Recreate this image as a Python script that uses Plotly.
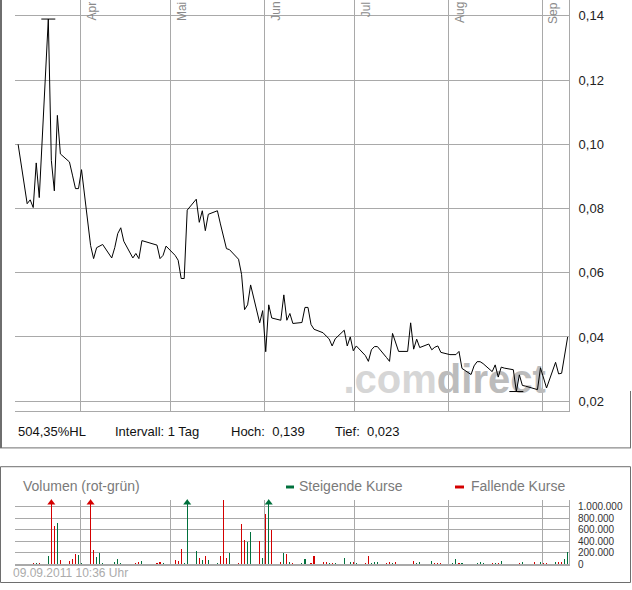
import pandas as pd
import plotly.graph_objects as go

# ---------------- data ----------------
HOLIDAYS = ["2011-04-22", "2011-04-25"]
TRADING_DAYS = [d for d in pd.bdate_range("2011-03-11", "2011-09-09")
                if d.strftime("%Y-%m-%d") not in HOLIDAYS]

PRICE = [
    0.100,
    0.0815, 0.0827, 0.0803, 0.0942, 0.0834,
    0.139, 0.095, 0.0855, 0.109, 0.097,
    0.0945, 0.0904, 0.0862, 0.0862, 0.0921,
    0.0685, 0.0644, 0.0678, 0.0683, 0.0688,
    0.0646, 0.0678, 0.0722, 0.074, 0.0698,
    0.0646, 0.066, 0.0644, 0.070,
    0.0686, 0.0644, 0.0654, 0.0683,
    0.0654, 0.0639, 0.0582, 0.0582, 0.0795,
    0.0829, 0.0757, 0.0793, 0.0731, 0.0782,
    0.0793, 0.0752, 0.0711, 0.0675, 0.0672,
    0.0642, 0.0595, 0.0485, 0.050, 0.0562,
    0.0444, 0.0482, 0.0354, 0.050, 0.0459,
    0.0452, 0.0531, 0.0452, 0.0473, 0.0442,
    0.0445, 0.0492, 0.0492, 0.0439, 0.0424,
    0.0413, 0.0403, 0.0394, 0.0372, 0.0394,
    0.0421, 0.0372, 0.040, 0.0357, 0.0372,
    0.0342, 0.0324, 0.036, 0.037, 0.037,
    0.0336, 0.0324, 0.0411, 0.0382, 0.0355,
    0.0355, 0.0444, 0.0362, 0.0393, 0.0367,
    0.0378, 0.036, 0.0368, 0.0372, 0.0352,
    0.0345, 0.0345, 0.0345, 0.0355, 0.0302,
    0.0283, 0.031, 0.0323, 0.0323, 0.0317,
    0.0292, 0.0313, 0.0275, 0.0306, 0.0303,
    0.0298, 0.023, 0.0282, 0.0249, 0.0247,
    0.0238, 0.0236, 0.0304, 0.0272, 0.0241,
    0.0321, 0.0285, 0.0287, 0.0345, 0.040,
]

VOLUME = [
    12000,
    0, 11000, 23000, 23000, 23000,
    138000, 1600000, 672000, 724000, 69000,
    52000, 86000, 172000, 155000, 17000,
    1500000, 241000, 126000, 195000, 17000,
    11000, 46000, 92000, 17000, 0,
    0, 17000, 46000, 57000,
    17000, 46000, 17000, 11000,
    75000, 57000, 264000, 17000, 1400000,
    230000, 115000, 75000, 144000, 69000,
    17000, 138000, 1110000, 103000, 201000,
    17000, 707000, 414000, 391000, 552000,
    397000, 103000, 879000, 1300000, 603000,
    40000, 201000, 184000, 40000, 23000,
    17000, 92000, 0, 17000, 138000,
    40000, 46000, 23000, 23000, 23000,
    103000, 11000, 40000, 40000, 17000,
    17000, 138000, 17000, 34000, 40000,
    23000, 40000, 17000, 34000, 11000,
    11000, 11000, 52000, 17000, 34000,
    11000, 52000, 23000, 17000, 17000,
    11000, 17000, 86000, 23000, 17000,
    11000, 11000, 17000, 34000, 23000,
    17000, 23000, 17000, 63000, 0,
    11000, 0, 17000, 34000, 0,
    34000, 0, 34000, 17000, 17000,
    46000, 34000, 34000, 98000, 218000,
]

# S = Steigende Kurse, F = Fallende Kurse
DIRECTION = list(
    "S"
    "-FFSF"
    "SFFSF"
    "FFFSS"
    "FFSSS"
    "FSSS-"
    "-FFS"
    "FFSS"
    "FFFSS"
    "SFSFS"
    "SFFFS"
    "FFFSS"
    "FSFSF"
    "FSFSF"
    "SS-FF"
    "FFSFS"
    "SFSFS"
    "FFSSS"
    "FFSFF"
    "SSFSS"
    "FSFFF"
    "SSSFS"
    "FFSSS"
    "FSFS-"
    "F-FS-"
    "F-SFF"
    "SFFSS"
)

MONTHS = ["2011-04-01", "2011-05-01", "2011-06-01", "2011-07-01", "2011-08-01", "2011-09-01"]
MONTH_LABELS = ["Apr", "Mai", "Jun", "Jul", "Aug", "Sep"]
PRICE_TICKS = [0.02, 0.04, 0.06, 0.08, 0.10, 0.12, 0.14]
VOLUME_TICKS = [0, 200000, 400000, 600000, 800000, 1000000]

# ---------------- layout helpers ----------------
W, H = 632, 590
def px(x):
    return x / W
def py(y):
    return 1 - y / H

X_RANGE = ["2011-03-10 11:17", "2011-09-09 22:33"]
P_RANGE = [0.01701, 0.144932]
VOL_TOP = 1120000

GRID = "#a9a9a9"
BORDER = "#6e6e6e"
RED = "#d40000"
GREEN = "#00703c"
FONT = "Liberation Sans, Arial, sans-serif"

x_pos = [d + pd.Timedelta(hours=12) for d in TRADING_DAYS]

fig = go.Figure()

# watermark (behind line)
fig.add_trace(go.Scatter(
    x=["2011-06-27 06:00"], y=[0.0256], mode="text",
    text=["<b><span style='color:#d6d6d6'>.com</span><span style='color:#bcbcbc'>direct</span></b>"],
    textposition="middle right", textfont=dict(size=40, family=FONT),
    hoverinfo="skip", showlegend=False, cliponaxis=False, xaxis="x", yaxis="y"))

# price line
fig.add_trace(go.Scatter(
    x=x_pos, y=PRICE, mode="lines", line=dict(color="black", width=1),
    showlegend=False, xaxis="x", yaxis="y"))

# high / low markers
hi = max(PRICE)
lo = min(PRICE)
hi_i = PRICE.index(hi)
lo_i = PRICE.index(lo)
fig.add_trace(go.Scatter(
    x=[x_pos[hi_i], x_pos[lo_i]], y=[hi, lo], mode="markers",
    marker=dict(symbol="line-ew", size=10, line=dict(color="black", width=1)),
    showlegend=False, xaxis="x", yaxis="y"))

# volume bars
colors = [GREEN if c == "S" else RED for c in DIRECTION]
fig.add_trace(go.Bar(
    x=x_pos, y=VOLUME, marker=dict(color=colors, line=dict(width=0)),
    width=[0.36 * 86400000] * len(x_pos), showlegend=False,
    xaxis="x2", yaxis="y2"))

# overflow arrows
ov_x = [x_pos[i] for i, v in enumerate(VOLUME) if v > VOL_TOP]
ov_c = [colors[i] for i, v in enumerate(VOLUME) if v > VOL_TOP]
fig.add_trace(go.Scatter(
    x=ov_x, y=[VOL_TOP * 0.955] * len(ov_x), mode="markers",
    marker=dict(symbol="triangle-up", size=7, color=ov_c),
    showlegend=False, cliponaxis=False, xaxis="x2", yaxis="y2"))

annotations = []
# month labels
for m, lab in zip(MONTHS, MONTH_LABELS):
    annotations.append(dict(
        x=m, xref="x", y=1, yref="paper", text=lab, textangle=-90,
        xanchor="left", yanchor="top", xshift=2, showarrow=False,
        font=dict(size=12, color="#8a8a8a", family=FONT)))

# info bar
span_pct = (hi - lo) / lo * 100
info = [
    (16, f"{span_pct:.2f}".replace(".", ",") + "%HL"),
    (113, "Intervall: 1 Tag"),
    (229, "Hoch:  " + f"{hi:.3f}".replace(".", ",")),
    (333, "Tief:  " + f"{lo:.3f}".replace(".", ",")),
]
for xx, t in info:
    annotations.append(dict(
        x=px(xx), y=py(436), xref="paper", yref="paper", text=t,
        xanchor="left", yanchor="middle", showarrow=False,
        font=dict(size=13, color="#111111", family=FONT)))

# volume panel texts
annotations.append(dict(x=px(21), y=py(491), xref="paper", yref="paper",
                        text="Volumen (rot-grün)", xanchor="left", yanchor="middle",
                        showarrow=False, font=dict(size=14, color="#7a7a7a", family=FONT)))
annotations.append(dict(x=px(297), y=py(491), xref="paper", yref="paper",
                        text="Steigende Kurse", xanchor="left", yanchor="middle",
                        showarrow=False, font=dict(size=14, color="#7a7a7a", family=FONT)))
annotations.append(dict(x=px(469), y=py(491), xref="paper", yref="paper",
                        text="Fallende Kurse", xanchor="left", yanchor="middle",
                        showarrow=False, font=dict(size=14, color="#7a7a7a", family=FONT)))
annotations.append(dict(x=px(11), y=py(579), xref="paper", yref="paper",
                        text="09.09.2011 10:36 Uhr", xanchor="left", yanchor="middle",
                        showarrow=False, font=dict(size=12, color="#ababab", family=FONT)))

shapes = [
    # top panel border
    dict(type="line", xref="paper", yref="paper", x0=px(1), x1=px(1), y0=py(0), y1=py(452.5),
         line=dict(color=BORDER, width=2)),
    dict(type="line", xref="paper", yref="paper", x0=px(0), x1=px(631), y0=py(452.5), y1=py(452.5),
         line=dict(color=BORDER, width=1)),
    dict(type="line", xref="paper", yref="paper", x0=px(630.5), x1=px(630.5), y0=py(395), y1=py(452.5),
         line=dict(color=BORDER, width=1)),
    # volume box
    dict(type="rect", xref="paper", yref="paper", x0=px(0.5), x1=px(630.5), y0=py(471.5), y1=py(588.5),
         line=dict(color=BORDER, width=1)),
    # legend dashes
    dict(type="rect", xref="paper", yref="paper", x0=px(286), x1=px(294), y0=py(490.5), y1=py(493.5),
         fillcolor=GREEN, line=dict(width=0)),
    dict(type="rect", xref="paper", yref="paper", x0=px(455), x1=px(464), y0=py(490.5), y1=py(493.5),
         fillcolor=RED, line=dict(width=0)),
]

fig.update_layout(
    width=W, height=H, autosize=False,
    margin=dict(l=0, r=0, t=0, b=0),
    paper_bgcolor="white", plot_bgcolor="white",
    separators=",.",
    font=dict(family=FONT),
    showlegend=False,
    hovermode=False,
    xaxis=dict(domain=[px(15), px(569)], range=X_RANGE, type="date",
               tickvals=MONTHS, showticklabels=False, showgrid=True,
               gridcolor=GRID, gridwidth=1, zeroline=False,
               showline=True, linecolor=GRID, linewidth=1, ticks="",
               anchor="y"),
    yaxis=dict(domain=[py(415), py(0)], range=P_RANGE, side="right",
               tickvals=PRICE_TICKS, tickformat=".2f", showgrid=True,
               gridcolor=GRID, gridwidth=1, zeroline=False,
               showline=True, linecolor=GRID, linewidth=1, ticks="",
               ticklabelstandoff=6,
               tickfont=dict(size=13, color="#222222", family=FONT),
               anchor="x"),
    xaxis2=dict(domain=[px(15), px(569)], range=X_RANGE, type="date",
                tickvals=MONTHS, showticklabels=False, showgrid=True,
                gridcolor=GRID, gridwidth=1, zeroline=False,
                showline=True, linecolor=GRID, linewidth=2, ticks="",
                anchor="y2"),
    yaxis2=dict(domain=[py(570), py(505)], range=[0, VOL_TOP], side="right",
                tickvals=VOLUME_TICKS, tickformat=",d", showgrid=True,
                gridcolor=GRID, gridwidth=1, zeroline=False,
                showline=True, linecolor=GRID, linewidth=1, ticks="",
                ticklabelstandoff=6,
                tickfont=dict(size=10, color="#333333", family=FONT),
                anchor="x2"),
    bargap=0,
    annotations=annotations,
    shapes=shapes,
)

fig.write_html("out.html",
               config={"displayModeBar": False, "staticPlot": True},
               post_script="document.body.style.margin='0px';document.body.style.overflow='hidden';")
